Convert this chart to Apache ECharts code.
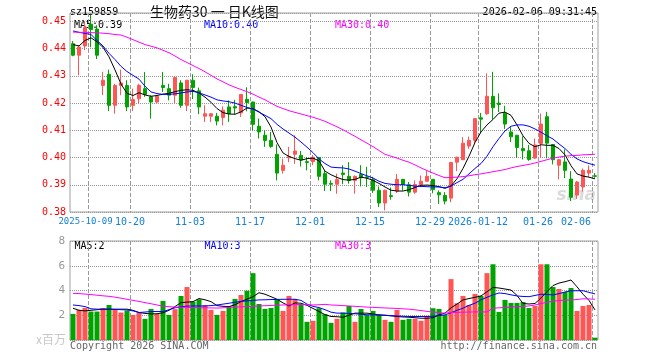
<!DOCTYPE html>
<html>
<head>
<meta charset="utf-8">
<script src="https://cdn.jsdelivr.net/npm/echarts@6/dist/echarts.min.js"></script>
<style>html,body{margin:0;padding:0;background:#fff;overflow:hidden}.c{width:660px;height:360px;position:absolute;left:0;top:0;}</style>
</head>
<body>
<div class="c" id="chart"></div>
<script>
const dates = ['2025-09-26','2025-09-29','2025-09-30','2025-10-09','2025-10-10','2025-10-13','2025-10-14','2025-10-15','2025-10-16','2025-10-17',
'2025-10-20','2025-10-21','2025-10-22','2025-10-23','2025-10-24','2025-10-27','2025-10-28','2025-10-29','2025-10-30','2025-10-31',
'2025-11-03','2025-11-04','2025-11-05','2025-11-06','2025-11-07','2025-11-10','2025-11-11','2025-11-12','2025-11-13','2025-11-14',
'2025-11-17','2025-11-18','2025-11-19','2025-11-20','2025-11-21','2025-11-24','2025-11-25','2025-11-26','2025-11-27','2025-11-28',
'2025-12-01','2025-12-02','2025-12-03','2025-12-04','2025-12-05','2025-12-08','2025-12-09','2025-12-10','2025-12-11','2025-12-12',
'2025-12-15','2025-12-16','2025-12-17','2025-12-18','2025-12-19','2025-12-22','2025-12-23','2025-12-24','2025-12-25','2025-12-26',
'2025-12-29','2025-12-30','2025-12-31','2026-01-05','2026-01-06','2026-01-07','2026-01-08','2026-01-09','2026-01-12','2026-01-13',
'2026-01-14','2026-01-15','2026-01-16','2026-01-19','2026-01-20','2026-01-21','2026-01-22','2026-01-23','2026-01-26','2026-01-27',
'2026-01-28','2026-01-29','2026-01-30','2026-02-02','2026-02-03','2026-02-04','2026-02-05','2026-02-06'];

const opens = [.4418,.4376,.4410,.4490,.4472,.4265,.4306,.4192,.4265,.4265,
.4192,.4216,.4253,.4223,.4204,.4265,.4253,.4229,.4274,.4192,
.4284,.4245,.4152,.4152,.4152,.4147,.4186,.4187,.4164,.4214,
.4204,.4115,.4082,.4063,.4012,.3953,.3999,.4012,.4008,.3985,
.3985,.4000,.3941,.3905,.3902,.3943,.3931,.3916,.3938,.3929,
.3919,.3880,.3833,.3860,.3877,.3920,.3900,.3873,.3901,.3913,
.3920,.3871,.3861,.3851,.3983,.3992,.4042,.4063,.4146,.4161,
.4225,.4200,.4163,.4094,.4082,.4033,.4025,.3998,.4052,.4150,
.4048,.3972,.3984,.3921,.3862,.3892,.3943,.3933];

const closes = [.4376,.4406,.4478,.4470,.4376,.4284,.4192,.4265,.4274,.4186,
.4213,.4265,.4232,.4204,.4225,.4257,.4229,.4294,.4192,.4284,
.4257,.4186,.4161,.4161,.4134,.4174,.4161,.4182,.4232,.4202,
.4122,.4094,.4063,.4041,.3943,.3972,.4004,.4024,.3992,.3982,
.4001,.3931,.3902,.3902,.3919,.3938,.3916,.3931,.3926,.3927,
.3880,.3833,.3880,.3857,.3920,.3901,.3873,.3901,.3913,.3931,
.3882,.3863,.3840,.3982,.4001,.4053,.4063,.4143,.4141,.4225,
.4183,.4195,.4123,.4076,.4037,.4025,.3993,.4046,.4123,.4053,
.3992,.3992,.3953,.3854,.3910,.3953,.3953,.3931];

const lows = [.4372,.4302,.4395,.4405,.4362,.4229,.4171,.4161,.4229,.4171,
.4171,.4200,.4223,.4143,.4200,.4241,.4210,.4200,.4183,.4171,
.4215,.4159,.4131,.4131,.4118,.4118,.4131,.4160,.4149,.4170,
.4100,.4070,.4039,.4036,.3916,.3941,.3983,.3977,.3967,.3953,
.3972,.3916,.3877,.3877,.3867,.3902,.3904,.3867,.3894,.3892,
.3870,.3818,.3806,.3845,.3870,.3879,.3857,.3867,.3891,.3912,
.3869,.3830,.3828,.3836,.3950,.3991,.4032,.4053,.4090,.4157,
.4140,.4167,.4105,.4057,.4000,.3993,.3988,.3996,.3998,.3997,
.3975,.3920,.3925,.3840,.3848,.3875,.3929,.3926];

const highs = [.4428,.4410,.4500,.4525,.4486,.4315,.4323,.4271,.4323,.4284,
.4253,.4271,.4314,.4229,.4229,.4314,.4271,.4296,.4284,.4285,
.4306,.4257,.4192,.4162,.4164,.4188,.4210,.4212,.4233,.4258,
.4205,.4143,.4100,.4094,.4048,.3996,.4039,.4082,.4024,.4002,
.4009,.4002,.3953,.3916,.3941,.3972,.3983,.3934,.3972,.3966,
.3929,.3894,.3882,.3890,.3940,.3921,.3910,.3916,.3934,.3953,
.3921,.3879,.3873,.3984,.4003,.4075,.4077,.4144,.4164,.4309,
.4315,.4236,.4190,.4112,.4083,.4078,.4046,.4070,.4162,.4168,
.4050,.3994,.4030,.3950,.3914,.3960,.3971,.3943];

const ma5 = [.4415,.4410,.4430,.4440,.4425,.4405,.4370,.4322,.4270,.4236,
.4228,.4238,.4230,.4225,.4228,.4233,.4236,.4242,.4247,.4249,
.4247,.4237,.4222,.4203,.4180,.4165,.4160,.4159,.4168,.4182,
.4180,.4168,.4150,.4112,.4055,.4017,.4004,.3996,.3990,.3996,
.3998,.3988,.3950,.3937,.3927,.3919,.3917,.3920,.3928,.3924,
.3916,.3905,.3892,.3880,.3877,.3877,.3882,.3890,.3898,.3899,
.3897,.3893,.3887,.3896,.3922,.3960,.4005,.4055,.4094,.4120,
.4140,.4163,.4167,.4155,.4120,.4080,.4052,.4040,.4047,.4045,
.4045,.4033,.4010,.3970,.3940,.3932,.3928,.3922];

const ma10 = [.4465,.4460,.4456,.4452,.4430,.4410,.4383,.4360,.4335,.4316,
.4302,.4288,.4262,.4241,.4235,.4232,.4232,.4234,.4237,.4241,
.4243,.4238,.4230,.4222,.4212,.4208,.4205,.4200,.4192,.4184,
.4178,.4167,.4155,.4143,.4122,.4105,.4090,.4075,.4057,.4038,
.4018,.3995,.3978,.3965,.3963,.3962,.3958,.3950,.3941,.3933,
.3925,.3913,.3905,.3902,.3900,.3900,.3898,.3895,.3894,.3893,
.3892,.3892,.3889,.3895,.3908,.3920,.3940,.3960,.3978,.4005,
.4040,.4070,.4098,.4115,.4120,.4120,.4115,.4105,.4093,.4080,
.4068,.4050,.4033,.4012,.3995,.3985,.3978,.3972];

const ma30 = [.4461,.4460,.4460,.4459,.4458,.4457,.4455,.4452,.4450,.4442,
.4433,.4424,.4415,.4409,.4403,.4394,.4385,.4373,.4360,.4349,
.4338,.4327,.4315,.4302,.4289,.4278,.4267,.4258,.4250,.4242,
.4233,.4222,.4212,.4200,.4188,.4180,.4172,.4166,.4160,.4154,
.4148,.4141,.4133,.4123,.4113,.4102,.4090,.4078,.4065,.4053,
.4040,.4026,.4012,.4005,.3998,.3990,.3983,.3973,.3962,.3952,
.3943,.3934,.3926,.3927,.3928,.3930,.3933,.3937,.3940,.3944,
.3948,.3952,.3956,.3962,.3967,.3971,.3975,.3980,.3986,.3992,
.3998,.4002,.4005,.4007,.4008,.4010,.4011,.4012];

// volume, millions
const volumes = [2.11,2.43,2.59,2.30,2.30,2.57,2.83,2.43,2.22,2.38,
2.03,2.22,1.71,2.51,2.11,3.16,2.03,2.49,3.56,4.28,
3.10,3.29,2.83,2.43,2.03,2.35,2.75,3.32,3.64,3.98,
5.40,2.91,2.51,2.59,3.29,2.35,3.56,3.32,2.91,1.47,
1.55,2.57,2.09,1.39,1.71,2.22,2.75,1.47,2.51,2.03,
2.35,2.03,1.63,1.47,2.43,1.63,1.71,1.71,1.55,1.95,
2.57,2.51,2.03,4.92,2.97,3.56,2.83,3.72,3.56,5.40,
6.12,2.27,3.24,2.99,2.99,3.07,2.59,2.75,6.12,6.12,
4.28,4.12,3.88,4.20,2.35,2.75,2.83,0.19];

const volMa5 = [2.57,2.40,2.35,2.40,2.45,2.49,2.49,2.49,2.49,2.49,
2.40,2.22,2.15,2.11,2.12,2.20,2.40,2.70,3.02,3.06,
3.10,3.35,3.25,3.10,2.78,2.72,2.70,2.85,3.10,3.30,
3.50,3.82,3.70,3.50,3.29,3.00,2.75,3.00,2.97,2.80,
2.55,2.30,2.05,1.90,1.88,1.84,2.00,2.17,2.17,2.17,
2.10,2.03,2.00,1.95,1.90,1.86,1.84,1.80,1.76,1.76,
1.80,2.03,2.17,2.60,2.90,3.24,3.35,3.45,3.56,3.90,
4.25,4.20,4.12,4.04,3.60,2.95,2.91,2.95,3.40,3.90,
4.40,4.60,4.71,4.85,4.30,3.70,3.20,2.43];

const volMa10 = [2.83,2.78,2.70,2.52,2.49,2.49,2.48,2.47,2.45,2.43,
2.35,2.22,2.26,2.30,2.30,2.30,2.45,2.60,2.68,2.74,
2.75,2.75,2.75,2.78,2.83,2.90,2.97,3.05,3.12,3.16,
3.20,3.24,3.25,3.27,3.28,3.29,3.29,3.29,3.20,2.90,
2.72,2.62,2.45,2.25,2.17,2.17,2.15,2.12,2.08,2.04,
2.03,2.02,2.00,1.97,1.94,1.92,1.90,1.90,1.90,1.90,
1.92,1.97,2.03,2.20,2.40,2.57,2.80,2.97,3.25,3.45,
3.65,3.80,3.75,3.65,3.56,3.52,3.50,3.60,3.70,3.68,
3.64,3.75,3.88,3.98,3.98,3.98,3.85,3.72];

const volMa30 = [3.77,3.75,3.71,3.67,3.62,3.57,3.53,3.46,3.38,3.29,
3.20,3.12,3.02,2.93,2.83,2.73,2.69,2.66,2.65,2.64,
2.62,2.61,2.60,2.59,2.58,2.60,2.63,2.66,2.68,2.70,
2.72,2.75,2.77,2.79,2.81,2.83,2.84,2.85,2.86,2.85,
2.83,2.85,2.88,2.83,2.81,2.78,2.75,2.72,2.69,2.66,
2.64,2.61,2.59,2.57,2.55,2.52,2.49,2.44,2.38,2.31,
2.26,2.21,2.17,2.22,2.23,2.25,2.26,2.27,2.27,2.27,
2.57,2.60,2.63,2.66,2.69,2.72,2.75,2.83,2.95,3.04,
3.14,3.19,3.22,3.24,3.27,3.33,3.32,3.29];

const labelDates = ['2025-10-09','2025-10-20','2025-11-03','2025-11-17','2025-12-01','2025-12-15','2025-12-29','2026-01-12','2026-01-26','2026-02-06'];
const labelTexts = ['2025-10-09','10-20','11-03','11-17','12-01','12-15','12-29','2026-01-12','01-26','02-06'];
const priceTicks = [0.38,0.39,0.40,0.41,0.42,0.43,0.44,0.45];
const volTicks = [2,4,6,8];

const RED = '#ff5555', GREEN = '#00a400', LINE_C = '#999999', GRID_C = '#a0a0a0', XLAB_C = '#1580d8';
const MONO = '"DejaVu Sans Mono", "Liberation Mono", monospace';
const lastIdx = dates.length - 1;
// category boundaries: one per trading day plus the closing edge, so gridlines/labels sit between bars
const boundaryCats = dates.concat(['end']);
const isLabelCat = (i)=> labelDates.indexOf(boundaryCats[i]) >= 0;

function dataAxis(gi) {
  return {type:'category', gridIndex:gi, position:'bottom', data:dates, boundaryGap:true, axisLine:{show:false}, axisTick:{show:false},
    axisLabel:{show:false}, splitLine:{show:false}};
}
function boundaryAxis(gi, withLabels) {
  return {type:'category', gridIndex:gi, position:'bottom', data:boundaryCats, boundaryGap:false, axisLine:{show:false}, axisTick:{show:false},
    splitLine:{show:true, interval:(i)=>isLabelCat(i), lineStyle:{color:LINE_C, type:'dashed', width:1}},
    axisLabel: !withLabels ? {show:false} : {show:true, interval:(i)=>isLabelCat(i), margin:5, hideOverlap:false,
      formatter:(v)=>{ const k = labelDates.indexOf(v); const t = labelTexts[k];
        if (k === labelDates.length-1) return '{e|'+t+'}';
        if (k === 0) return '{s|'+t+'}';
        return '{m|'+t+'}'; },
      rich:{
        m:{color:XLAB_C, fontFamily:MONO, fontSize:10},
        s:{color:XLAB_C, fontFamily:MONO, fontSize:9, padding:[0,5,0,0]},
        e:{color:XLAB_C, fontFamily:MONO, fontSize:10, padding:[0,32,0,0]}
      }, color:XLAB_C, fontFamily:MONO, fontSize:10}};
}

const lineS = (data, color, xi, yi) => ({type:'line', data, xAxisIndex:xi, yAxisIndex:yi, symbol:'none', silent:true, lineStyle:{color, width:1}, z:3});
const txt = (text, x, y, color, font, align) => ({type:'text', x, y, style:{text, fill:color, font, textAlign:align||'left', align:align||'left', textVerticalAlign:'middle', verticalAlign:'middle'}});

const option = {
  animation:false,
  grid:[
    {left:70, right:62, top:13, height:199, show:true, borderColor:GRID_C, borderWidth:1},
    {left:70, right:62, top:241, height:99, show:true, borderColor:GRID_C, borderWidth:1}
  ],
  xAxis:[dataAxis(0), dataAxis(1), boundaryAxis(0, true), boundaryAxis(1, false)],
  yAxis:[
    {type:'value', gridIndex:0, min:priceTicks[0], max:0.4531, interval:0.01,
      axisLine:{show:false}, axisTick:{show:false},
      axisLabel:{show:true, showMaxLabel:false, margin:4, color:'#ff0000', fontFamily:MONO, fontSize:10, formatter:(v)=>v.toFixed(2)},
      splitLine:{show:true, lineStyle:{color:LINE_C, type:'dotted', width:1}}},
    {type:'value', gridIndex:1, min:0, max:volTicks[volTicks.length-1], interval:volTicks[1]-volTicks[0],
      axisLine:{show:false}, axisTick:{show:false},
      axisLabel:{show:true, showMinLabel:false, margin:5, color:'#999', fontFamily:MONO, fontSize:11},
      splitLine:{show:true, lineStyle:{color:LINE_C, type:'dotted', width:1}}}
  ],
  series:[
    {type:'candlestick', data:dates.map((d,i)=>[opens[i], closes[i], lows[i], highs[i]]), xAxisIndex:0, yAxisIndex:0, barWidth:4, silent:true,
      itemStyle:{color:RED, color0:GREEN, borderColor:RED, borderColor0:GREEN, borderWidth:1}, z:2},
    lineS(ma5, '#000000', 0, 0),
    lineS(ma10, '#0000ff', 0, 0),
    lineS(ma30, '#ff00ff', 0, 0),
    {type:'bar', data:volumes.map((v,i)=>({value:v, itemStyle:{color: closes[i] >= opens[i] ? RED : GREEN}})), xAxisIndex:1, yAxisIndex:1, barWidth:5, silent:true, z:2},
    lineS(volMa5, '#000000', 1, 1),
    lineS(volMa10, '#0000ff', 1, 1),
    lineS(volMa30, '#ff00ff', 1, 1)
  ],
  graphic:[
    txt('sz159859', 70, 12.5, '#000', '10px '+MONO),
    txt('生物药30 一 日K线图', 150, 12, '#111', '14px "Noto Sans CJK SC"'),
    txt('2026-02-06 09:31:45', 597, 12.5, '#000', '10px '+MONO, 'right'),
    txt('MA5:' + ma5[lastIdx].toFixed(2), 74, 25.5, '#000', '10px '+MONO),
    txt('MA10:' + ma10[lastIdx].toFixed(2), 204, 25.5, '#0000ff', '10px '+MONO),
    txt('MA30:' + ma30[lastIdx].toFixed(2), 335, 25.5, '#ff00ff', '10px '+MONO),
    txt('MA5:' + Math.floor(volMa5[lastIdx]), 74.5, 246, '#000', '10px '+MONO),
    txt('MA10:' + Math.floor(volMa10[lastIdx]), 204.5, 246, '#0000ff', '10px '+MONO),
    txt('MA30:' + Math.floor(volMa30[lastIdx]), 335, 246, '#ff00ff', '10px '+MONO),
    txt('x百万', 66, 339, '#c8c8c8', '12px "Noto Sans CJK SC"', 'right'),
    txt('Copyright 2026 SINA.COM', 70, 346, '#666', '10px '+MONO),
    txt('http://finance.sina.com.cn', 597, 346, '#666', '10px '+MONO, 'right'),
    txt('sina', 596, 196, 'rgba(190,190,190,0.55)', 'italic bold 17px "DejaVu Sans"', 'right')
  ]
};
echarts.init(document.getElementById('chart')).setOption(option);
</script>
</body>
</html>
